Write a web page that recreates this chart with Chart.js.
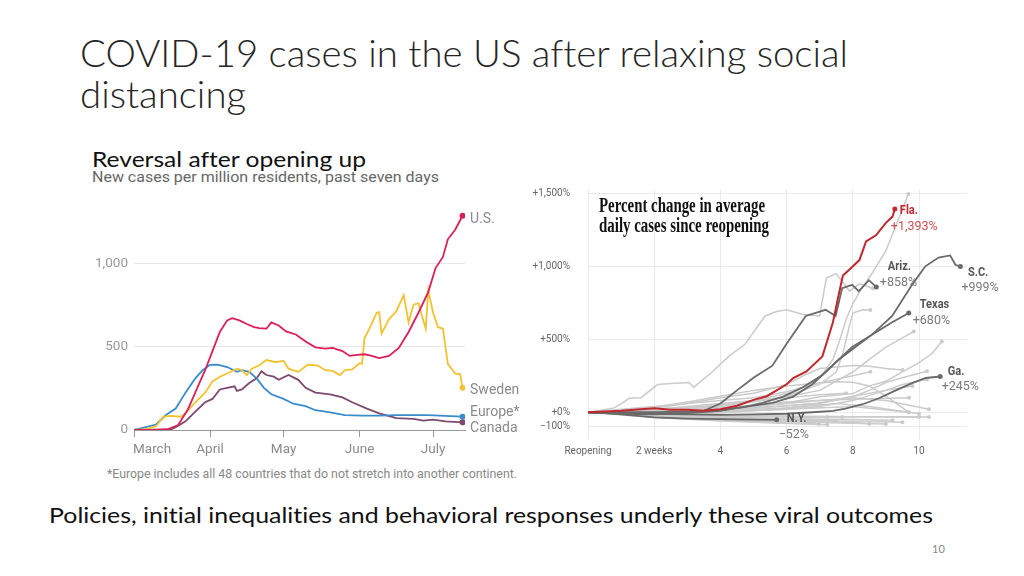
<!DOCTYPE html>
<html>
<head>
<meta charset="utf-8">
<script src="https://cdn.jsdelivr.net/npm/chart.js@4.4.1/dist/chart.umd.min.js"></script>
<style>
  html, body { margin: 0; padding: 0; background: #fff; }
  body { width: 1024px; height: 576px; position: relative; overflow: hidden; font-family: Lato, "Open Sans", sans-serif; font-variant-ligatures: none; }
  .txt { position: absolute; white-space: nowrap; line-height: 1; transform-origin: 0 0; display: inline-block; }
  #title1, #title2 { left: 80px; font-size: 37px; font-weight: 300; color: #262626; }
  #title1 { top: 34px; }
  #title2 { top: 75px; }
  #reversal { left: 92px; top: 148px; font-size: 22px; color: #111; }
  #subtitle { left: 92px; top: 170px; font-size: 15.5px; color: #666; font-family: Roboto, sans-serif; }
  #footnote { left: 107px; top: 468px; font-size: 12px; color: #888; font-family: Roboto, sans-serif; }
  #bottom { left: 49px; top: 504px; font-size: 22px; color: #111; }
  #pagenum { left: 932px; top: 543px; font-size: 11px; color: #888; }
  canvas { position: absolute; }
  #casesChart { left: 90px; top: 190px; }
  #reopenChart { left: 525px; top: 165px; }
</style>
</head>
<body>
<span class="txt" id="title1">COVID-19 cases in the US after relaxing social</span>
<span class="txt" id="title2">distancing</span>
<span class="txt" id="reversal">Reversal after opening up</span>
<span class="txt" id="subtitle">New cases per million residents, past seven days</span>
<span class="txt" id="footnote">*Europe includes all 48 countries that do not stretch into another continent.</span>
<span class="txt" id="bottom">Policies, initial inequalities and behavioral responses underly these viral outcomes</span>
<span class="txt" id="pagenum">10</span>
<canvas id="casesChart" width="435" height="270"></canvas>
<canvas id="reopenChart" width="480" height="300"></canvas>

<script>
// ---------- left chart: new cases per million, days since March 1 ----------
const monthTicks = [0, 31, 61, 92, 122];
const monthNames = ['March', 'April', 'May', 'June', 'July'];
const caseTicks = [0, 500, 1000];
const seriesNames = ['U.S.', 'Sweden', 'Europe*', 'Canada'];

const usDays = [0, 10, 14, 18, 22, 26, 29, 32, 35, 38, 40, 43, 46, 49, 51, 54, 56, 59, 62, 66, 70, 74, 78, 81, 85, 88, 91, 94, 97, 100, 104, 108, 112, 116, 120, 123, 126, 128, 131, 134];
const usCases = [0, 0, 5, 30, 125, 260, 360, 475, 590, 660, 673, 660, 638, 620, 613, 610, 648, 629, 594, 575, 533, 498, 490, 494, 475, 446, 452, 456, 446, 433, 446, 494, 590, 706, 830, 975, 1042, 1148, 1206, 1290];

const sweDays = [0, 5, 9, 12, 15, 19, 21, 25, 29, 32, 35, 38, 42, 44, 46, 48, 51, 54, 58, 61, 63, 67, 71, 75, 78, 81, 84, 86, 89, 92, 93, 94, 96, 99, 100, 101, 104, 107, 110, 112, 114, 116, 119, 120, 122, 124, 126, 128, 131, 133, 134];
const sweCases = [0, 5, 23, 80, 85, 80, 100, 167, 225, 292, 321, 340, 369, 360, 330, 369, 388, 421, 408, 417, 369, 350, 394, 388, 360, 356, 331, 360, 365, 402, 398, 552, 610, 706, 710, 581, 667, 715, 812, 648, 754, 763, 610, 840, 706, 619, 610, 398, 340, 337, 254];

const eurDays = [0, 9, 13, 17, 21, 25, 28, 31, 34, 38, 42, 44, 47, 50, 53, 56, 61, 65, 70, 74, 80, 86, 93, 100, 107, 114, 120, 127, 134];
const eurCases = [0, 33, 90, 129, 225, 311, 360, 392, 394, 379, 350, 360, 350, 311, 254, 215, 187, 158, 144, 119, 106, 90, 87, 87, 90, 90, 90, 85, 80];

const canDays = [0, 15, 17, 21, 25, 29, 32, 35, 38, 41, 42, 44, 47, 50, 52, 54, 57, 59, 63, 67, 70, 74, 80, 85, 89, 95, 100, 107, 114, 118, 122, 127, 134];
const canCases = [0, 3, 17, 52, 110, 167, 187, 244, 254, 263, 235, 244, 283, 311, 354, 331, 321, 302, 331, 302, 254, 225, 215, 196, 167, 129, 100, 71, 67, 56, 62, 52, 46];

// ---------- right chart: percent change since reopening, by week ----------
const weekTicks = [0, 2, 4, 6, 8, 10];
const pctTicks = [-100, 0, 500, 1000, 1500];
const stateNames = ['Fla.', 'Ariz.', 'S.C.', 'Texas', 'Ga.', 'N.Y.'];
const stateChanges = ['+1,393%', '+858%', '+999%', '+680%', '+245%', '\u221252%'];

const flaWeeks = [0, 1, 2, 2.5, 3, 3.5, 4, 4.5, 5, 5.4, 5.7, 6, 6.2, 6.6, 7.08, 7.2, 7.4, 7.55, 7.7, 7.9, 8.2, 8.4, 8.7, 9, 9.2, 9.27];
const flaPct = [0, 10, 28, 17, 17, 10, 21, 45, 85, 110, 150, 192, 234, 280, 383, 470, 617, 780, 937, 979, 1043, 1171, 1213, 1298, 1341, 1393];
const azWeeks = [0, 1, 2, 3, 3.5, 4, 4.5, 5, 5.57, 6, 6.58, 7, 7.18, 7.48, 7.68, 7.98, 8.18, 8.49, 8.71];
const azPct = [0, -5, -10, 0, 10, 60, 150, 236, 319, 470, 660, 690, 702, 660, 851, 873, 830, 905, 858];
const scWeeks = [0, 1, 2, 3, 4, 4.5, 5, 5.57, 6.18, 6.78, 7.38, 7.98, 8.58, 9.19, 9.79, 10.19, 10.59, 10.94, 11.1, 11.25];
const scPct = [0, -10, -15, -5, 10, 30, 45, 64, 106, 192, 319, 447, 532, 660, 873, 1000, 1060, 1075, 1011, 999];
const txWeeks = [0, 1, 2, 3, 4, 4.7, 5.27, 5.88, 6.48, 7.08, 7.58, 8.08, 8.58, 9.19, 9.69];
const txPct = [0, 0, 0, 5, 15, 35, 64, 106, 170, 255, 362, 447, 532, 617, 680];
const gaWeeks = [0, 1, 2, 3, 4, 5, 6, 6.78, 7.4, 7.78, 8.3, 8.79, 9.2, 9.79, 10.2, 10.64];
const gaPct = [0, -5, -10, -15, -18, -15, -10, 0, 10, 25, 55, 96, 140, 200, 235, 245];
const nyWeeks = [0, 0.5, 1, 1.5, 2, 3, 4, 5, 5.7];
const nyPct = [0, -5, -15, -25, -35, -43, -47, -50, -52];

// other states, drawn light grey
const g1W = [0, 0.8, 1.25, 1.6, 2.1, 2.5, 3.05, 3.2, 3.75, 4.25, 4.75, 5.15, 5.35, 5.7, 6, 6.5, 7, 7.2, 7.5, 7.9, 8.2, 8.6];
const g1P = [0, 30, 96, 100, 190, 198, 204, 172, 276, 383, 468, 596, 660, 690, 702, 670, 660, 920, 950, 830, 880, 850];
const g2W = [0, 1, 2, 3, 4, 5, 6, 6.5, 7, 7.4, 7.6, 7.8, 8, 8.3, 8.6, 9, 9.3, 9.68];
const g2P = [0, 5, 15, 30, 50, 80, 128, 172, 236, 362, 490, 638, 745, 860, 958, 1107, 1277, 1496];
const g3W = [0, 1, 2, 3, 4, 5, 6, 6.5, 7, 7.5, 7.7, 7.9, 8, 8.3, 8.53];
const g3P = [0, 0, 10, 25, 40, 70, 110, 150, 191, 276, 404, 595, 680, 702, 700];
const g4W = [0, 2, 4, 5, 6, 7, 7.5, 8, 8.5, 9, 9.5, 9.84];
const g4P = [0, 20, 50, 75, 107, 150, 213, 276, 362, 447, 510, 553];
const g5W = [0, 2, 4, 5, 6, 7, 8, 8.5, 9, 9.5, 10, 10.4, 10.69];
const g5P = [0, 5, 20, 40, 64, 107, 128, 181, 213, 277, 340, 404, 485];
const g6W = [0, 2, 4, 5, 6, 7, 8, 8.5, 9, 9.5, 10, 10.24];
const g6P = [0, 5, 15, 30, 45, 64, 107, 150, 204, 236, 268, 281];
const g7W = [0, 2, 4, 6, 7, 8, 9, 9.5, 10, 10.24];
const g7P = [0, -5, 0, 20, 40, 80, 150, 190, 215, 224];
const g8W = [0, 1, 2, 3, 4, 5, 6, 7, 8, 8.53];
const g8P = [0, 20, 40, 60, 80, 100, 140, 200, 250, 277];
const g9W = [0, 1, 2, 3, 4, 5, 6, 7, 7.5, 8, 8.5, 9, 9.7];
const g9P = [0, 15, 35, 70, 110, 150, 180, 200, 210, 205, 180, 110, 0];
const g10W = [0, 1, 2, 3, 4, 5, 5.5, 6, 6.5, 7, 7.5, 8, 8.5, 9, 9.5];
const g10P = [0, 10, 30, 60, 100, 130, 160, 190, 250, 300, 310, 320, 315, 300, 290];
const g11W = [0, 2, 4, 5, 6, 7, 8, 9, 9.8];
const g11P = [0, -10, -5, 10, 30, 60, 110, 150, 180];
const g12W = [0, 2, 4, 6, 6.97];
const g12P = [0, -30, -55, -75, -81];
const g13W = [0, 2, 4, 6, 7.23];
const g13P = [0, -20, -35, -45, -32];
const g14W = [0, 2, 4, 6, 7.68];
const g14P = [0, -15, -25, -30, -32];
const g15W = [0, 2, 4, 6, 7.23];
const g15P = [0, -35, -60, -75, -85];
const g16W = [0, 2, 4, 6, 8, 8.5];
const g16P = [0, -25, -45, -60, -72, -78];
const g17W = [0, 2, 4, 6, 8, 10];
const g17P = [0, -10, -20, -25, -30, -32];
const g18W = [0, 2, 4, 6, 8, 10.3];
const g18P = [0, -15, -25, -30, -30, -32];
const g19W = [0, 2, 4, 6, 8, 9.68];
const g19P = [0, 5, 10, 20, 40, 0];
const g20W = [0, 2, 4, 6, 8, 9.2];
const g20P = [0, -20, -35, -45, -50, -55];
const g21W = [0, 2, 4, 6, 7.5, 8.5, 10];
const g21P = [0, 5, 10, 30, 60, 40, -10];
const g22W = [0, 1, 2, 3, 4, 5, 6, 7, 7.8];
const g22P = [0, 10, 20, 40, 60, 80, 100, 120, 130];
const g23W = [0, 1, 2, 3, 4, 5, 6, 7, 8, 9];
const g23P = [0, -12, -25, -38, -50, -58, -65, -70, -75, -80];
const g24W = [0, 1, 2, 3, 4, 5, 6, 7, 7.5];
const g24P = [0, -5, -10, -20, -30, -40, -50, -55, -60];
const g25W = [0, 1, 2, 3, 4, 5, 6, 7, 8, 9, 10.3];
const g25P = [0, 10, 15, 20, 30, 40, 60, 80, 100, 80, 20];
const g26W = [0, 1, 2, 3, 4, 5, 6, 7, 8, 9.7];
const g26P = [0, 5, 10, 15, 30, 50, 70, 80, 90, 100];
const g27W = [0, 1, 2, 3, 4, 5, 6, 7];
const g27P = [0, 8, 5, 15, 25, 30, 45, 60];
const g28W = [0, 1, 2, 3, 4, 5, 6, 7, 8, 9.5];
const g28P = [0, -8, -18, -28, -36, -44, -50, -58, -62, -68];

const grayWeeks = [g1W, g2W, g3W, g4W, g5W, g6W, g7W, g8W, g9W, g10W, g11W, g12W, g13W, g14W, g15W, g16W, g17W, g18W, g19W, g20W, g21W, g22W, g23W, g24W, g25W, g26W, g27W, g28W];
const grayPcts = [g1P, g2P, g3P, g4P, g5P, g6P, g7P, g8P, g9P, g10P, g11P, g12P, g13P, g14P, g15P, g16P, g17P, g18P, g19P, g20P, g21P, g22P, g23P, g24P, g25P, g26P, g27P, g28P];

// --- helpers ---
function series(xs, ys) {
    return xs.map((x, i) => ({ x: x, y: ys[i] }));
}
function endDot(r) {
    return c => (c.dataIndex === c.dataset.data.length - 1 ? r : 0);
}
function line(xs, ys, color, width, dot) {
    return {
        data: series(xs, ys),
        borderColor: color,
        backgroundColor: color,
        borderWidth: width,
        pointRadius: endDot(dot),
        pointBorderWidth: 0,
        pointBackgroundColor: color
    };
}
function drawFitted(ctx, text, x, y, w) {
    const m = ctx.measureText(text).width;
    ctx.save();
    ctx.translate(x, y);
    ctx.scale(w / m, 1);
    ctx.fillText(text, 0, 0);
    ctx.restore();
}
function fitText(id, width) {
    const el = document.getElementById(id);
    const s = width / el.getBoundingClientRect().width;
    el.style.transform = 'scaleX(' + s + ')';
    return s;
}

const leftLabels = {
    id: 'leftLabels',
    afterDatasetsDraw(chart) {
        const { ctx, scales: { x, y } } = chart;
        ctx.save();
        ctx.font = '13.5px Roboto';
        ctx.fillStyle = '#8a8a8a';
        ctx.textBaseline = 'middle';
        monthTicks.forEach((d, i) => {
            ctx.textAlign = i === 0 ? 'left' : 'center';
            ctx.fillText(monthNames[i], x.getPixelForValue(d) - (i === 0 ? 1 : 0), x.top + 20);
        });
        const shift = [4, 3, -4, 6];
        ctx.font = '14px Roboto';
        ctx.textAlign = 'left';
        chart.data.datasets.forEach((ds, i) => {
            const last = ds.data[ds.data.length - 1];
            ctx.fillText(seriesNames[i], x.getPixelForValue(last.x) + 7.5, y.getPixelForValue(last.y) + shift[i]);
        });
        ctx.restore();
    }
};

const rightLabels = {
    id: 'rightLabels',
    afterDatasetsDraw(chart) {
        const { ctx, scales: { x, y } } = chart;
        ctx.save();
        ctx.fillStyle = '#111';
        ctx.textAlign = 'left';
        ctx.textBaseline = 'alphabetic';
        ctx.font = 'bold 20px "Liberation Serif", serif';
        drawFitted(ctx, 'Percent change in average', 74, 47, 166);
        drawFitted(ctx, 'daily cases since reopening', 74, 67, 170);

        // offsets of name / change text from each highlighted line's end
        const nameOff = [[5, 1.5], [11.5, -20], [7.5, 6], [11, -8.5], [7.5, -4.7], [10, -1.4]];
        const valOff = [[-4, 17.5], [3.5, -4], [1, 21], [4, 7.5], [1.5, 10.3], [2, 14.6]];
        ctx.textBaseline = 'middle';
        for (let i = 0; i < stateNames.length; i++) {
            const ds = chart.data.datasets[i];
            const last = ds.data[ds.data.length - 1];
            const px = x.getPixelForValue(last.x);
            const py = y.getPixelForValue(last.y);
            ctx.font = 'bold 13px Roboto';
            ctx.fillStyle = i === 0 ? '#c0282d' : '#555';
            ctx.save();
            ctx.translate(px + nameOff[i][0], py + nameOff[i][1]);
            ctx.scale(0.85, 1);
            ctx.fillText(stateNames[i], 0, 0);
            ctx.restore();
            ctx.font = '12.5px Roboto';
            ctx.fillStyle = i === 0 ? '#d0504f' : '#7a7a7a';
            ctx.fillText(stateChanges[i], px + valOff[i][0], py + valOff[i][1]);
        }
        ctx.restore();
    }
};

function buildCharts() {
    Chart.defaults.font.family = 'Roboto';

    new Chart(document.getElementById('casesChart'), {
        type: 'line',
        data: {
            datasets: [
                line(usDays, usCases, '#dc1e5a', 1.8, 3),
                line(sweDays, sweCases, '#f2c230', 1.8, 3),
                line(eurDays, eurCases, '#3a8ccc', 1.8, 3),
                line(canDays, canCases, '#7b4a6f', 1.8, 3)
            ]
        },
        options: {
            responsive: false,
            animation: false,
            devicePixelRatio: 1,
            layout: { padding: { top: 5, right: 60, left: 0, bottom: 0 } },
            elements: { line: { tension: 0 } },
            plugins: { legend: { display: false }, tooltip: { enabled: false } },
            scales: {
                x: {
                    type: 'linear', min: 0, max: 135,
                    afterBuildTicks: s => { s.ticks = monthTicks.map(v => ({ value: v })); },
                    afterFit: s => { s.height = 30; },
                    ticks: { display: false },
                    grid: { drawOnChartArea: false, drawTicks: true, tickLength: 7, color: '#999' },
                    border: { display: true, color: '#999', width: 1 }
                },
                y: {
                    type: 'linear', min: 0, max: 1360,
                    afterBuildTicks: s => { s.ticks = caseTicks.map(v => ({ value: v })); },
                    afterFit: s => { s.width = 44; },
                    ticks: { padding: 6, color: '#999', font: { size: 13.5 }, callback: v => v.toLocaleString('en-US') },
                    grid: { drawTicks: false, color: c => (c.tick && c.tick.value === 0 ? 'rgba(0,0,0,0)' : '#e6e6e6') },
                    border: { display: false }
                }
            }
        },
        plugins: [leftLabels]
    });

    const highlighted = [
        line(flaWeeks, flaPct, '#c0282d', 2, 2.5),
        line(azWeeks, azPct, '#6a6a6a', 1.8, 2.5),
        line(scWeeks, scPct, '#6a6a6a', 1.8, 2.5),
        line(txWeeks, txPct, '#6a6a6a', 1.8, 2.5),
        line(gaWeeks, gaPct, '#6a6a6a', 1.8, 2.5),
        line(nyWeeks, nyPct, '#6a6a6a', 1.8, 2.5)
    ];
    const greys = grayWeeks.map((w, i) => line(w, grayPcts[i], '#cbcbcb', 1.5, 2));

    new Chart(document.getElementById('reopenChart'), {
        type: 'line',
        data: { datasets: highlighted.concat(greys) },
        options: {
            responsive: false,
            animation: false,
            devicePixelRatio: 1,
            layout: { padding: { top: 5, right: 38, left: 0, bottom: 0 } },
            elements: { line: { tension: 0 } },
            plugins: { legend: { display: false }, tooltip: { enabled: false } },
            scales: {
                x: {
                    type: 'linear', min: 0, max: 11.45,
                    afterBuildTicks: s => { s.ticks = weekTicks.map(v => ({ value: v })); },
                    afterFit: s => { s.height = 25; },
                    ticks: {
                        padding: 5, color: '#666', font: { size: 10 },
                        callback: v => (v === 0 ? 'Reopening' : v === 2 ? '2 weeks' : String(v))
                    },
                    grid: { drawTicks: false, color: '#e9e9e9' },
                    border: { display: false }
                },
                y: {
                    type: 'linear', min: -190, max: 1530,
                    afterBuildTicks: s => { s.ticks = pctTicks.map(v => ({ value: v })); },
                    afterFit: s => { s.width = 63; },
                    ticks: {
                        padding: 18, color: '#666', font: { size: 10 },
                        callback: v => (v < 0 ? '\u2212' + Math.abs(v) : '+' + v.toLocaleString('en-US')) + '%'
                    },
                    grid: { drawTicks: false, color: '#e9e9e9' },
                    border: { display: false }
                }
            }
        },
        plugins: [rightLabels]
    });

    const s = fitText('title1', 768);
    document.getElementById('title2').style.transform = 'scaleX(' + s + ')';
    fitText('reversal', 274);
    fitText('subtitle', 347);
    fitText('footnote', 410);
    fitText('bottom', 884);
}

Promise.all([
    document.fonts.load('14px Roboto'),
    document.fonts.load('bold 14px Roboto'),
    document.fonts.load('bold 20px "Liberation Serif"'),
    document.fonts.load('300 37px Lato'),
    document.fonts.load('22px Lato')
]).then(buildCharts, buildCharts);
</script>
</body>
</html>
